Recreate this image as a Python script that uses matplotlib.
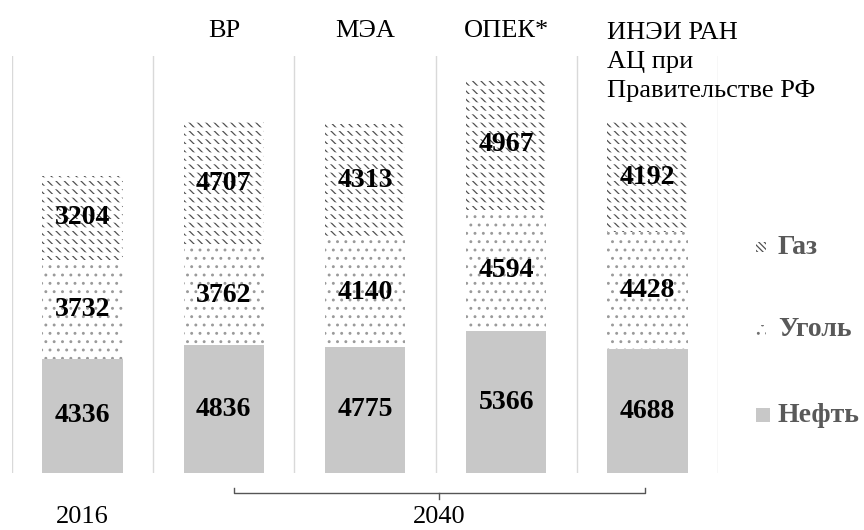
import matplotlib
matplotlib.use("Agg")
import matplotlib.pyplot as plt
from matplotlib.patches import Rectangle
import matplotlib.transforms as mtransforms

plt.rcParams["font.family"] = "Liberation Serif"
plt.rcParams["hatch.linewidth"] = 0.9

# Данные (млн т н.э.)
sources = ["BP", "МЭА", "ОПЕК*", "ИНЭИ РАН\nАЦ при\nПравительстве РФ"]
oil = [4336, 4836, 4775, 5366, 4688]
coal = [3732, 3762, 4140, 4594, 4428]
gas = [3204, 4707, 4313, 4967, 4192]
fuel_names = ["Газ", "Уголь", "Нефть"]

W, H = 864, 530
fig = plt.figure(figsize=(W / 100, H / 100), dpi=100)
ax = fig.add_axes([12 / W, (H - 473) / H, (718 - 12) / W, (473 - 56) / H])

n = len(oil)
x = list(range(n))
width = 0.57
oil_color = "#c8c8c8"
gas_hatch = "#505050"
coal_hatch = "#9a9a9a"

bottom_coal = oil
bottom_gas = [o + c for o, c in zip(oil, coal)]


def gas_texture(bars):
    # разрезаем диагональную штриховку белыми полосами -> ряды коротких штрихов
    for b in bars:
        r = Rectangle((b.get_x(), b.get_y()), b.get_width(), b.get_height(),
                      facecolor="none", edgecolor="white", hatch="--",
                      linewidth=0)
        if hasattr(r, "set_hatch_linewidth"):
            r.set_hatch_linewidth(2.6)
        ax.add_patch(r)


ax.bar(x, oil, width, color=oil_color, linewidth=0)
ax.bar(x, coal, width, bottom=bottom_coal, color="white",
       edgecolor=coal_hatch, hatch="..", linewidth=0)
gas_bars = ax.bar(x, gas, width, bottom=bottom_gas, color="white",
                  edgecolor=gas_hatch, hatch="\\\\\\\\", linewidth=0)
gas_texture(gas_bars)

# подписи значений
for i in x:
    for val, base in ((oil[i], 0), (coal[i], bottom_coal[i]), (gas[i], bottom_gas[i])):
        ax.text(i, base + val / 2, str(val), ha="center", va="center",
                fontsize=20, fontweight="bold", zorder=5)

# вертикальные разделители
for i in range(n + 1):
    ax.axvline(i - 0.5, color="#d9d9d9", linewidth=1)

ax.set_xlim(-0.5, n - 0.5)
ax.set_ylim(0, 15800)
ax.axis("off")

trans = mtransforms.blended_transform_factory(ax.transData, ax.transAxes)

# заголовки прогнозов
for i, s in enumerate(sources[:3]):
    ax.text(i + 1, 1.06, s, transform=trans, ha="center", va="center",
            fontsize=19)
fig.text(607 / W, 1 - 62 / H, sources[3], ha="left", va="center",
         fontsize=19, linespacing=1.42)

# подписи годов и скобка
ax.text(0, -0.105, "2016", transform=trans, ha="center", va="center",
        fontsize=19)
xl, xr = 1.07, 3.98
xm = (xl + xr) / 2
yb = -0.048
ax.plot([xl, xl, xr, xr], [yb + 0.013, yb, yb, yb + 0.013], transform=trans,
        color="#555555", linewidth=1, clip_on=False)
ax.plot([xm, xm], [yb, yb - 0.014], transform=trans, color="#555555",
        linewidth=1, clip_on=False)
ax.text(xm, -0.105, "2040", transform=trans, ha="center", va="center",
        fontsize=19)

# легенда
leg_y = [247, 330, 415]
styles = [
    dict(facecolor="white", edgecolor=gas_hatch, hatch="\\\\\\\\\\\\", linewidth=0),
    dict(facecolor="white", edgecolor="#707070", hatch="..", linewidth=0),
    dict(facecolor=oil_color, linewidth=0),
]
for name, y, kw in zip(fuel_names, leg_y, styles):
    size = 14 if name == "Нефть" else 10
    fig.patches.append(Rectangle((756 / W, (H - y - size / 2) / H), size / W,
                                 size / H, transform=fig.transFigure, **kw))
    fig.text(778 / W, 1 - y / H, name, ha="left", va="center", fontsize=20,
             fontweight="bold", color="#595959")

fig.savefig("out.png", dpi=100)
